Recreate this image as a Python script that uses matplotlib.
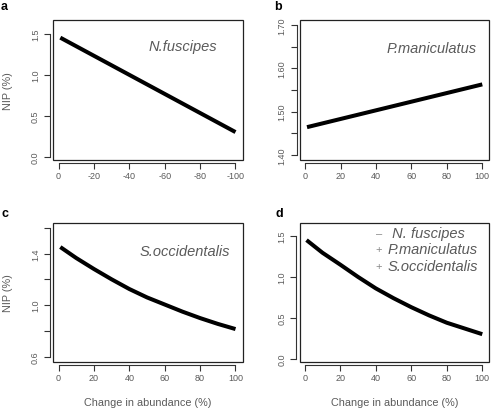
import matplotlib
matplotlib.use("Agg")
import matplotlib.pyplot as plt
from matplotlib.patches import Rectangle

plt.rcParams['font.family'] = ['Liberation Sans', 'DejaVu Sans']

W, H = 491, 410

# data
x_lin = [1, 100]
nip_a = [1.45, 0.30]          # N.fuscipes, abundance decrease
nip_b = [1.464, 1.563]        # P.maniculatus
x_curve = [1, 10, 20, 30, 40, 50, 60, 70, 80, 90, 100]
nip_c = [1.45, 1.365, 1.28, 1.20, 1.125, 1.06, 1.005, 0.95, 0.90, 0.855, 0.815]
nip_d = [1.45, 1.295, 1.15, 1.00, 0.86, 0.74, 0.63, 0.53, 0.44, 0.37, 0.30]

xticks = [0, 20, 40, 60, 80, 100]
xlabels_a = ['0', '-20', '-40', '-60', '-80', '-100']
xlabels = ['0', '20', '40', '60', '80', '100']

yticks_a = [0.0, 0.5, 1.0, 1.5]
ylabels_a = ['0.0', '0.5', '1.0', '1.5']
yticks_b = [1.40, 1.45, 1.50, 1.55, 1.60, 1.65, 1.70]
ylabels_b = ['1.40', '', '1.50', '', '1.60', '', '1.70']
yticks_c = [0.6, 0.8, 1.0, 1.2, 1.4, 1.6]
ylabels_c = ['0.6', '', '1.0', '', '1.4', '']

species = ['N.fuscipes', 'P.maniculatus', 'S.occidentalis']
legend_d = [('\u2013', ' N. fuscipes'), ('+', 'P.maniculatus'), ('+', 'S.occidentalis')]

grey = '#5a5a5a'
dark = '#333333'

fig = plt.figure(figsize=(W / 100, H / 100), dpi=100)


def panel(l, t, r, b):
    ax = fig.add_axes([l / W, 1 - b / H, (r - l) / W, (b - t) / H])
    ax.add_patch(Rectangle((0, 0), 1, 1, transform=ax.transAxes, fill=False,
                           lw=0.9, ec='#222222', clip_on=False))
    for s in ['top', 'right']:
        ax.spines[s].set_visible(False)
    for s in ['left', 'bottom']:
        ax.spines[s].set_position(('outward', 2.2))
        ax.spines[s].set_color(dark)
        ax.spines[s].set_linewidth(0.8)
    ax.set_xlim(-2.96, 103.96)
    ax.tick_params(axis='both', length=4.3, width=0.8, color=dark,
                   labelsize=6.5, labelcolor=grey)
    ax.tick_params(axis='x', pad=1.2)
    ax.tick_params(axis='y', pad=3)
    ax.spines['bottom'].set_bounds(0, 100)
    return ax


def set_y(ax, ticks, labels, lim):
    ax.set_ylim(*lim)
    ax.set_yticks(ticks)
    ax.set_yticklabels(labels, rotation=90, va='center')
    ax.spines['left'].set_bounds(ticks[0], ticks[-1])


ax_a = panel(53.3, 21, 242.5, 161)
ax_b = panel(300, 21, 489.3, 161)
ax_c = panel(53.3, 223.5, 242.5, 363)
ax_d = panel(299.5, 223.5, 489.3, 363)

ax_a.plot(x_lin, nip_a, color='black', lw=2.9, solid_capstyle='butt')
ax_b.plot(x_lin, nip_b, color='black', lw=2.9, solid_capstyle='butt')
ax_c.plot(x_curve, nip_c, color='black', lw=2.9, solid_capstyle='butt')
ax_d.plot(x_curve, nip_d, color='black', lw=2.9, solid_capstyle='butt')

set_y(ax_a, yticks_a, ylabels_a, (-0.04, 1.665))
set_y(ax_b, yticks_b, ylabels_b, (1.388, 1.712))
set_y(ax_c, yticks_c, ylabels_c, (0.56, 1.64))
set_y(ax_d, yticks_a, ylabels_a, (-0.04, 1.665))

ax_a.set_xticks(xticks)
ax_a.set_xticklabels(xlabels_a)
for ax in [ax_b, ax_c, ax_d]:
    ax.set_xticks(xticks)
    ax.set_xticklabels(xlabels)

for ax in [ax_a, ax_c]:
    ax.set_ylabel('NIP (%)', fontsize=7.8, color=grey)
    ax.yaxis.set_label_coords(-0.237, 0.5)
    ax.yaxis.label.set_va('center')
for ax in [ax_c, ax_d]:
    ax.set_xlabel('Change in abundance (%)', fontsize=7.8, color=grey)
    ax.xaxis.set_label_coords(0.5, -0.287)
    ax.xaxis.label.set_va('center')

sp_kw = dict(fontsize=10.5, style='italic', color=grey, ha='right', va='center')
ax_a.text(0.865, 0.816, species[0], transform=ax_a.transAxes, **sp_kw)
ax_b.text(0.935, 0.80, species[1], transform=ax_b.transAxes, **sp_kw)
ax_c.text(0.934, 0.798, species[2], transform=ax_c.transAxes, **sp_kw)

# legend-like text in panel d
for i, (sym, name) in enumerate(legend_d):
    yy = (363 - (234 + 16.3 * i)) / 139.5
    ax_d.text((379 - 299.5) / 189.8, yy, sym, transform=ax_d.transAxes,
              fontsize=8, color='#888888', ha='center', va='center')
    ax_d.text((387.5 - 299.5) / 189.8, yy, name, transform=ax_d.transAxes,
              fontsize=10.5, style='italic', color=grey, ha='left', va='center')

for lab, px, py in [('a', 1, 7), ('b', 274, 7), ('c', 1, 214), ('d', 275, 214)]:
    fig.text(px / W, 1 - py / H, lab, fontsize=9, fontweight='bold',
             ha='left', va='center')

fig.savefig('out.png', dpi=100)
